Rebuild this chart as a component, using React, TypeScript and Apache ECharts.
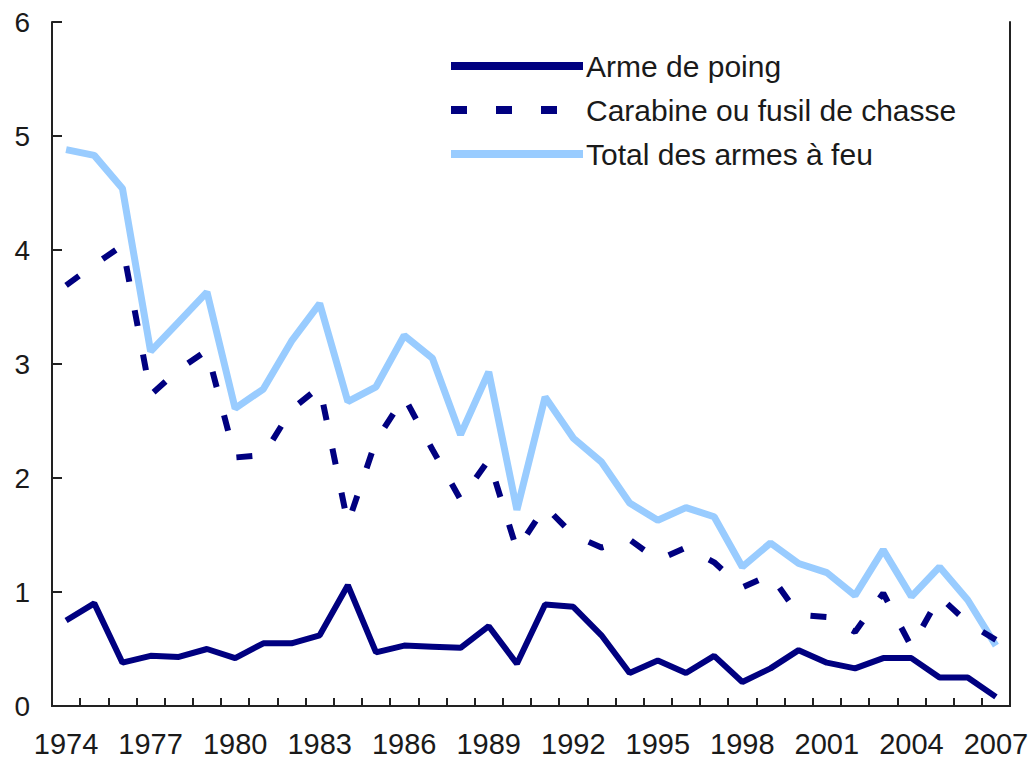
import React, { useEffect, useRef } from "react";
import * as echarts from "echarts";

const years = [
  "1974","1975","1976","1977","1978","1979","1980","1981","1982","1983",
  "1984","1985","1986","1987","1988","1989","1990","1991","1992","1993",
  "1994","1995","1996","1997","1998","1999","2000","2001","2002","2003",
  "2004","2005","2006","2007",
];

const handgun = [
  0.75, 0.9, 0.38, 0.44, 0.43, 0.5, 0.42, 0.55, 0.55, 0.62,
  1.06, 0.47, 0.53, 0.52, 0.51, 0.7, 0.37, 0.89, 0.87, 0.62,
  0.29, 0.4, 0.29, 0.44, 0.21, 0.33, 0.49, 0.38, 0.33, 0.42,
  0.42, 0.25, 0.25, 0.08,
];

const rifle = [
  3.69, 3.87, 4.04, 2.73, 2.95, 3.12, 2.18, 2.2, 2.6, 2.8,
  1.6, 2.33, 2.71, 2.25, 1.81, 2.16, 1.37, 1.75, 1.5, 1.39,
  1.46, 1.28, 1.39, 1.26, 1.04, 1.15, 0.8, 0.78, 0.65, 0.99,
  0.52, 0.96, 0.73, 0.58,
];

const total = [
  4.88, 4.83, 4.54, 3.11, 3.37, 3.63, 2.61, 2.78, 3.2, 3.53,
  2.67, 2.8, 3.25, 3.05, 2.38, 2.93, 1.72, 2.71, 2.35, 2.14,
  1.78, 1.63, 1.74, 1.66, 1.22, 1.43, 1.25, 1.17, 0.97, 1.37,
  0.96, 1.22, 0.93, 0.53,
];

const seriesNames = ["Arme de poing", "Carabine ou fusil de chasse", "Total des armes à feu"];

const NAVY = "#000080";
const LIGHT = "#99CCFF";
const FONT = "Liberation Sans, Arial, sans-serif";
const TEXT = "#1a1a1a";

export default function App() {
  const ref = useRef<HTMLDivElement>(null);

  useEffect(() => {
    if (!ref.current) return;
    const chart = echarts.init(ref.current, undefined, { renderer: "svg" });
    const frameLine = { show: true, lineStyle: { color: "#222", width: 2 } };
    chart.setOption({
      animation: false,
      backgroundColor: "#ffffff",
      grid: {
        left: 52,
        right: 24,
        top: 22,
        bottom: 53,
        containLabel: false,
      },
      legend: {
        orient: "vertical",
        left: 447,
        top: 51,
        padding: 0,
        itemWidth: 132,
        itemHeight: 12,
        itemGap: 14,
        data: seriesNames,
        itemStyle: { opacity: 0 },
        lineStyle: { width: 8 },
        textStyle: { fontFamily: FONT, fontSize: 30, color: TEXT, padding: [0, 0, 0, -2] },
      },
      xAxis: [
        {
          type: "category",
          data: years,
          boundaryGap: true,
          axisLine: frameLine,
          axisTick: { show: true, inside: true, length: 8, interval: 0, lineStyle: { color: "#222", width: 2 } },
          axisLabel: {
            interval: 2,
            fontFamily: FONT,
            fontSize: 29,
            color: TEXT,
            margin: 23,
          },
          splitLine: { show: false },
        },
        {
          type: "category",
          data: years,
          position: "top",
          boundaryGap: true,
          axisLine: frameLine,
          axisTick: { show: false },
          axisLabel: { show: false },
          splitLine: { show: false },
        },
      ],
      yAxis: [
        {
          type: "value",
          min: 0,
          max: 6,
          interval: 1,
          axisLine: frameLine,
          axisTick: { show: true, inside: true, length: 10, lineStyle: { color: "#222", width: 2 } },
          axisLabel: { fontFamily: FONT, fontSize: 28, color: TEXT, margin: 22 },
          splitLine: { show: false },
        },
        {
          type: "value",
          min: 0,
          max: 6,
          interval: 1,
          position: "right",
          axisLine: frameLine,
          axisTick: { show: false },
          axisLabel: { show: false },
          splitLine: { show: false },
        },
      ],
      series: [
        {
          name: seriesNames[2],
          type: "line",
          data: total,
          symbol: "none",
          z: 1,
          lineStyle: { color: LIGHT, width: 7 },
          itemStyle: { color: LIGHT },
        },
        {
          name: seriesNames[1],
          type: "line",
          data: rifle,
          symbol: "none",
          z: 2,
          lineStyle: { color: NAVY, width: 6, type: [16, 29], cap: "butt" },
          itemStyle: { color: NAVY },
        },
        {
          name: seriesNames[0],
          type: "line",
          data: handgun,
          symbol: "none",
          z: 3,
          lineStyle: { color: NAVY, width: 6 },
          itemStyle: { color: NAVY },
        },
      ],
    });
    return () => chart.dispose();
  }, []);

  return (
    <div
      ref={ref}
      style={{ position: "fixed", left: 0, top: 0, width: 1034, height: 759, background: "#fff" }}
    />
  );
}
